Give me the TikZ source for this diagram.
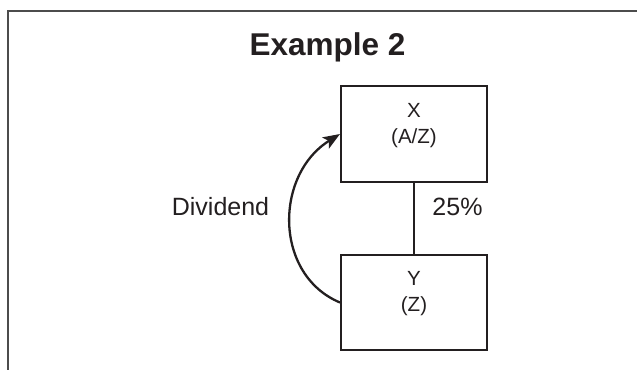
\documentclass[tikz,border=0pt]{standalone}
\usepackage{fontspec}
\setmainfont{Liberation Sans}
\usetikzlibrary{arrows.meta}
\definecolor{ink}{HTML}{231F20}
\begin{document}
\begin{tikzpicture}[x=1pt,y=-1pt,
  box/.style={draw=ink,line width=2pt,minimum width=146pt,inner sep=0pt},
  lbl/.style={text=ink,font=\fontsize{20.5}{24}\selectfont,inner sep=0pt,anchor=base},
  big/.style={text=ink,font=\fontsize{25}{30}\selectfont,inner sep=0pt},
  frame/.style={draw=gray!60!black,line width=1.5pt}]
\useasboundingbox (0,0) rectangle (637,370);
% frame
\coordinate (ftr) at (637,11);
\coordinate (ftl) at (8,11);
\coordinate (fbl) at (8,370);
\draw[frame] (ftr) -- (ftl) -- (fbl);
% title
\node[text=ink,font=\fontsize{31.5}{36}\selectfont\bfseries,inner sep=0pt,anchor=base] (title) at (327.5,55) {Example 2};
% boxes
\node[box,minimum height=96pt] (X) at (414,134) {};
\node[box,minimum height=95pt] (Y) at (414,302.5) {};
\node[lbl] (Xa) at (414,117) {X};
\node[lbl] (Xb) at (414,143) {(A/Z)};
\node[lbl] (Ya) at (414,285) {Y};
\node[lbl] (Yb) at (414,311) {(Z)};
% link
\draw[draw=ink,line width=1.6pt] (X.south) -- (Y.north);
\node[big] (pct) at (457.5,207) {25\%};
% dividend arrow
\draw[draw=ink,line width=2.3pt,-{Stealth[length=17pt,width=13pt,inset=4pt]}]
  (Y.west) .. controls +(-66,-27.5) and +(-66,41) .. (X.west);
\node[big] (div) at (220.5,207) {Dividend};
\end{tikzpicture}
\end{document}
